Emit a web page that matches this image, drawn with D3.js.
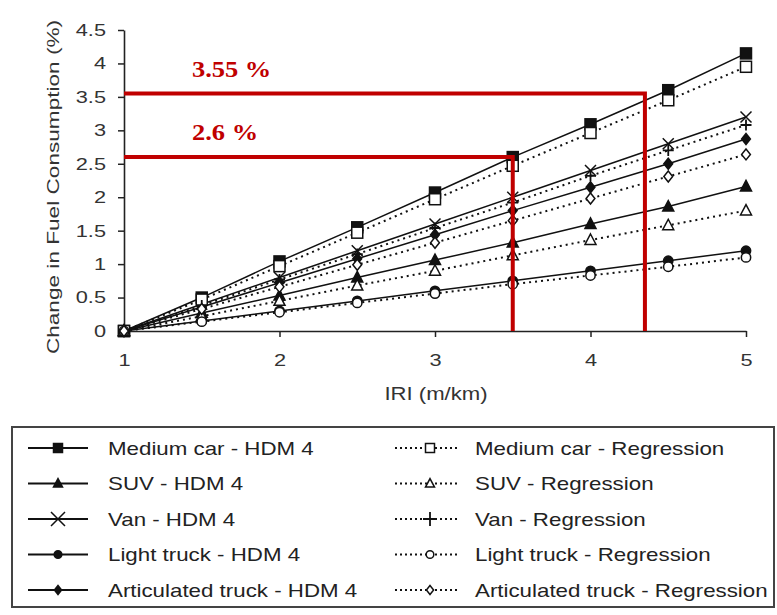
<!DOCTYPE html>
<html><head><meta charset="utf-8">
<script src="https://cdnjs.cloudflare.com/ajax/libs/d3/7.8.5/d3.min.js"></script>
<style>body{margin:0;background:#fff}svg{display:block}</style>
</head><body>
<svg id="c" width="777" height="615"></svg>
<script>
const iri = [1, 1.5, 2, 2.5, 3, 3.5, 4, 4.5, 5];
const mediumCarHDM = [0, 0.5, 1.04, 1.55, 2.07, 2.6, 3.09, 3.6, 4.15];
const mediumCarReg = [0, 0.47, 0.97, 1.47, 1.97, 2.47, 2.96, 3.45, 3.95];
const suvHDM = [0, 0.27, 0.53, 0.8, 1.06, 1.32, 1.6, 1.86, 2.16];
const suvReg = [0, 0.22, 0.45, 0.68, 0.9, 1.13, 1.36, 1.58, 1.8];
const vanHDM = [0, 0.4, 0.8, 1.2, 1.6, 2.0, 2.4, 2.8, 3.2];
const vanReg = [0, 0.38, 0.77, 1.15, 1.54, 1.92, 2.32, 2.7, 3.08];
const lightTruckHDM = [0, 0.15, 0.3, 0.45, 0.6, 0.75, 0.9, 1.05, 1.2];
const lightTruckReg = [0, 0.14, 0.28, 0.42, 0.56, 0.7, 0.83, 0.96, 1.1];
const articHDM = [0, 0.36, 0.72, 1.08, 1.44, 1.8, 2.15, 2.5, 2.87];
const articReg = [0, 0.33, 0.66, 0.99, 1.32, 1.65, 1.98, 2.31, 2.64];
const xTicks = [1, 2, 3, 4, 5];
const yTicks = [0, 0.5, 1, 1.5, 2, 2.5, 3, 3.5, 4, 4.5];
const highlightX = [3.5, 4.35];
const highlightY = [2.6, 3.55];
const highlightLabels = ["2.6 %", "3.55 %"];

const series = [
  {name:"Medium car - HDM 4", v:mediumCarHDM, sym:"square", fill:true, dash:false},
  {name:"SUV - HDM 4", v:suvHDM, sym:"triangle", fill:true, dash:false},
  {name:"Van - HDM 4", v:vanHDM, sym:"x", fill:true, dash:false},
  {name:"Light truck - HDM 4", v:lightTruckHDM, sym:"circle", fill:true, dash:false},
  {name:"Articulated truck - HDM 4", v:articHDM, sym:"diamond", fill:true, dash:false},
  {name:"Medium car - Regression", v:mediumCarReg, sym:"square", fill:false, dash:true},
  {name:"SUV - Regression", v:suvReg, sym:"triangle", fill:false, dash:true},
  {name:"Van - Regression", v:vanReg, sym:"plus", fill:false, dash:true},
  {name:"Light truck - Regression", v:lightTruckReg, sym:"circle", fill:false, dash:true},
  {name:"Articulated truck - Regression", v:articReg, sym:"diamond", fill:false, dash:true}
];

const svg = d3.select("#c");
const x = d3.scaleLinear().domain([1,5]).range([124,746]);
const y = d3.scaleLinear().domain([0,4.5]).range([331,30]);
const font = "Liberation Sans, Arial, sans-serif";
const SX = 1.28;

// axes
const yAx = svg.append("g").attr("transform","translate(124,0)")
  .call(d3.axisLeft(y).tickValues(yTicks).tickSize(6).tickSizeOuter(0).tickFormat(d3.format("")));
const xAx = svg.append("g").attr("transform","translate(0,331)")
  .call(d3.axisBottom(x).tickValues(xTicks).tickSize(6).tickSizeOuter(0).tickFormat(d3.format("")));
[yAx,xAx].forEach(a=>{
  a.select(".domain").attr("stroke","#222").attr("stroke-width",1.6);
  a.selectAll(".tick line").attr("stroke","#222").attr("stroke-width",1.5);
  a.selectAll("text").attr("fill","#333").style("font-family",font).style("font-size","17px")
    .attr("transform",`scale(${SX},1)`);
});
yAx.selectAll("text").attr("x",-18/SX);
xAx.selectAll("text").attr("y",23);

svg.append("text").attr("transform",`translate(59,187) rotate(-90) scale(1.33,1)`)
  .attr("text-anchor","middle").attr("fill","#333").style("font-family",font).style("font-size","17px")
  .text("Change in Fuel Consumption (%)");
svg.append("text").attr("transform",`translate(436,400) scale(1.23,1)`).attr("text-anchor","middle").attr("fill","#333")
  .style("font-family",font).style("font-size","18px").text("IRI (m/km)");

function drawSym(g, sym, fill, cx, cy, s){
  const f = fill ? "#111" : "#fff";
  if(sym==="square"){
    g.append("rect").attr("x",cx-s).attr("y",cy-s).attr("width",2*s).attr("height",2*s)
      .attr("fill",f).attr("stroke","#111").attr("stroke-width",1.5);
  } else if(sym==="triangle"){
    g.append("path").attr("d",`M${cx},${cy-s*1.1}L${cx+s},${cy+s*0.8}L${cx-s},${cy+s*0.8}Z`)
      .attr("fill",f).attr("stroke","#111").attr("stroke-width",1.5);
  } else if(sym==="circle"){
    g.append("circle").attr("cx",cx).attr("cy",cy).attr("r",s*0.85)
      .attr("fill",f).attr("stroke","#111").attr("stroke-width",1.5);
  } else if(sym==="diamond"){
    g.append("path").attr("d",`M${cx},${cy-s}L${cx+s*0.8},${cy}L${cx},${cy+s}L${cx-s*0.8},${cy}Z`)
      .attr("fill",f).attr("stroke","#111").attr("stroke-width",1.5);
  } else if(sym==="x"){
    g.append("path").attr("d",`M${cx-s},${cy-s}L${cx+s},${cy+s}M${cx-s},${cy+s}L${cx+s},${cy-s}`)
      .attr("stroke","#111").attr("stroke-width",1.5);
  } else if(sym==="plus"){
    g.append("path").attr("d",`M${cx-s},${cy}L${cx+s},${cy}M${cx},${cy-s}L${cx},${cy+s}`)
      .attr("stroke","#111").attr("stroke-width",1.8);
  }
}

const line = d3.line().x((d,i)=>x(iri[i])).y(d=>y(d));
const plot = svg.append("g");
series.forEach(s=>{
  plot.append("path").attr("d",line(s.v)).attr("fill","none").attr("stroke","#111")
    .attr("stroke-width", s.dash?2:1.5).attr("stroke-dasharray", s.dash?"2,4":null);
});
series.forEach(s=>{
  const g = plot.append("g");
  s.v.forEach((d,i)=>drawSym(g, s.sym, s.fill, x(iri[i]), y(d), 5.5));
});

// highlight red lines
const red = "#c00000";
highlightX.forEach((hx,i)=>{
  const hy = highlightY[i];
  svg.append("path").attr("d",`M${x(1)},${y(hy)}H${x(hx)}V${y(0)}`)
    .attr("fill","none").attr("stroke",red).attr("stroke-width",4);
  svg.append("text").attr("transform",`translate(192,${y(hy)-17}) scale(1.15,1)`).attr("fill",red)
    .style("font-family","Liberation Serif, Times New Roman, serif").style("font-weight","bold")
    .style("font-size","23px").text(highlightLabels[i]);
});

// legend
svg.append("rect").attr("x",12).attr("y",427).attr("width",762).attr("height",180)
  .attr("fill","#fff").attr("stroke","#444").attr("stroke-width",2);
const rowY = d3.scaleLinear().domain([0,4]).range([448,590]);
series.forEach((s,k)=>{
  const col = k<5?0:1, r = k%5;
  const cy = rowY(r);
  const x0 = col===0?28:395, x1 = col===0?88:460, mx = col===0?58:430;
  const g = svg.append("g");
  g.append("line").attr("x1",x0).attr("x2",x1).attr("y1",cy).attr("y2",cy)
    .attr("stroke","#111").attr("stroke-width", s.dash?2:1.8).attr("stroke-dasharray", s.dash?"2,3":null);
  drawSym(g, s.sym, s.fill, mx, cy, s.sym==="x"||s.sym==="plus"?7:4.5);
  g.append("text").attr("transform",`translate(${col===0?108:475},${cy+6.5}) scale(1.24,1)`).attr("fill","#222")
    .style("font-family",font).style("font-size","18px").text(s.name);
});
</script>
</body></html>
